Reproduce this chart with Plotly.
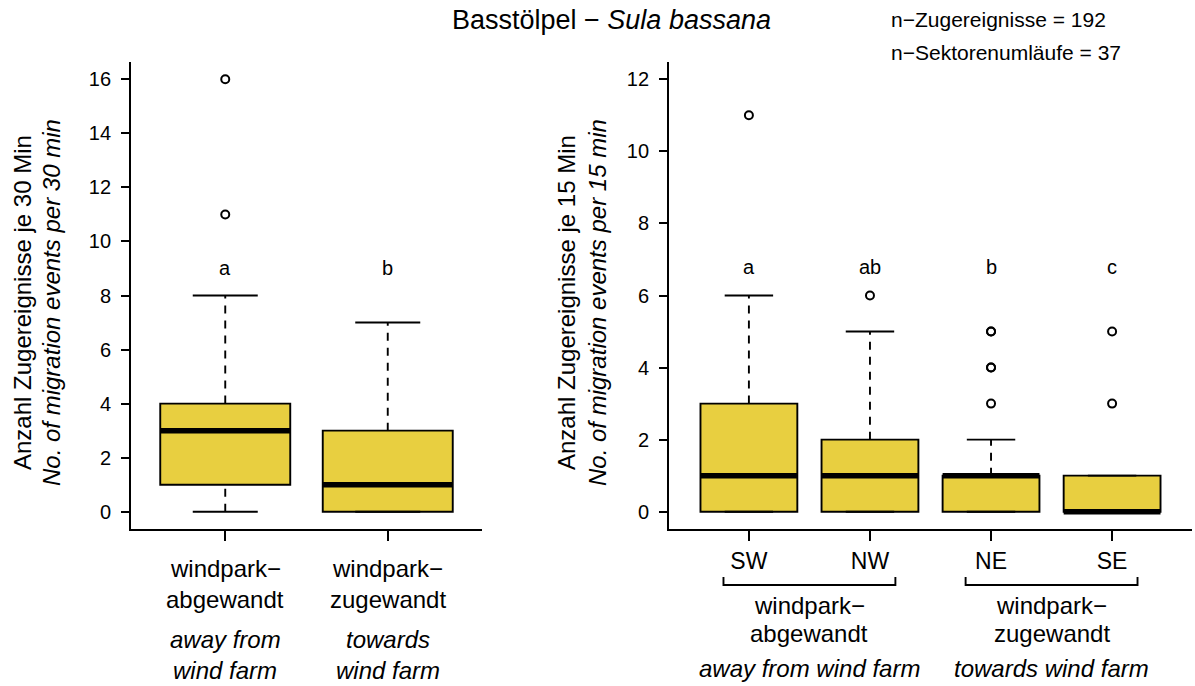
import plotly.graph_objects as go

# ---------------- data ----------------
left_categories = ["windpark−abgewandt", "windpark−zugewandt"]
left_label_de_1 = ["windpark−", "windpark−"]
left_label_de_2 = ["abgewandt", "zugewandt"]
left_label_en_1 = ["away from", "towards"]
left_label_en_2 = ["wind farm", "wind farm"]
left_q1 = [1, 0]
left_median = [3, 1]
left_q3 = [4, 3]
left_lower = [0, 0]
left_upper = [8, 7]
left_outliers = [[11, 16], []]
left_letters = ["a", "b"]
left_yticks = [0, 2, 4, 6, 8, 10, 12, 14, 16]

right_categories = ["SW", "NW", "NE", "SE"]
right_q1 = [0, 0, 0, 0]
right_median = [1, 1, 1, 0]
right_q3 = [3, 2, 1, 1]
right_lower = [0, 0, 0, 0]
right_upper = [6, 5, 2, 1]
right_outliers = [[11], [6], [3, 4, 4, 5, 5], [3, 5]]
right_letters = ["a", "ab", "b", "c"]
right_yticks = [0, 2, 4, 6, 8, 10, 12]

groups = [["SW", "NW"], ["NE", "SE"]]
group_de_1 = ["windpark−", "windpark−"]
group_de_2 = ["abgewandt", "zugewandt"]
group_en = ["away from wind farm", "towards wind farm"]

title_plain = "Basstölpel − "
title_italic = "Sula bassana"
n_lines = ["n−Zugereignisse = 192", "n−Sektorenumläufe = 37"]
ylab_left = ["Anzahl Zugereignisse je 30 Min", "No. of migration events per 30 min"]
ylab_right = ["Anzahl Zugereignisse je 15 Min", "No. of migration events per 15 min"]

# ---------------- style ----------------
W, H = 1195, 686
FONT = "Liberation Sans, Arial, Helvetica, sans-serif"
FILL = "#E8CF40"
LW = 1.9
BOXW = 0.8
TICK_FS = 20
LAB_FS = 24


def px_x(p):
    return p / W


def px_y(p):
    return 1 - p / H


fig = go.Figure()


def add_panel(xa, ya, q1, med, q3, lo, up, outl):
    pos = list(range(1, len(q1) + 1))
    fig.add_trace(go.Box(
        x=pos, q1=q1, median=med, q3=q3, lowerfence=q1, upperfence=q3,
        width=BOXW, fillcolor=FILL, line=dict(color="black", width=LW),
        boxpoints=False, showlegend=False, hoverinfo="skip",
        xaxis=xa, yaxis=ya,
    ))
    # dashed whiskers
    wx, wy = [], []
    for p, a, b, c, d in zip(pos, lo, q1, q3, up):
        if d > c:
            wx += [p, p, None]
            wy += [c, d, None]
        if a < b:
            wx += [p, p, None]
            wy += [a, b, None]
    fig.add_trace(go.Scatter(x=wx, y=wy, mode="lines",
                             line=dict(color="black", width=LW, dash="8px,7px"),
                             showlegend=False, hoverinfo="skip", xaxis=xa, yaxis=ya))
    # staples
    sx, sy = [], []
    for p, a, d in zip(pos, lo, up):
        for v in (a, d):
            sx += [p - BOXW / 4, p + BOXW / 4, None]
            sy += [v, v, None]
    fig.add_trace(go.Scatter(x=sx, y=sy, mode="lines",
                             line=dict(color="black", width=LW),
                             showlegend=False, hoverinfo="skip", xaxis=xa, yaxis=ya))
    # thick medians
    mx, my = [], []
    for p, m in zip(pos, med):
        mx += [p - BOXW / 2, p + BOXW / 2, None]
        my += [m, m, None]
    fig.add_trace(go.Scatter(x=mx, y=my, mode="lines",
                             line=dict(color="black", width=5.5),
                             showlegend=False, hoverinfo="skip", xaxis=xa, yaxis=ya))
    # outliers
    ox, oy = [], []
    for p, vals in zip(pos, outl):
        for v in vals:
            ox.append(p)
            oy.append(v)
    fig.add_trace(go.Scatter(x=ox, y=oy, mode="markers",
                             marker=dict(symbol="circle-open", size=8, color="black",
                                         line=dict(width=2, color="black")),
                             showlegend=False, hoverinfo="skip", xaxis=xa, yaxis=ya))
    return pos


posL = add_panel("x", "y", left_q1, left_median, left_q3, left_lower, left_upper, left_outliers)
posR = add_panel("x2", "y2", right_q1, right_median, right_q3, right_lower, right_upper, right_outliers)

y_dom = [px_y(529), px_y(62)]
axis_common = dict(showline=True, linecolor="black", linewidth=LW, ticks="outside",
                   tickcolor="black", tickwidth=LW, showgrid=False, zeroline=False,
                   tickfont=dict(family=FONT, size=TICK_FS, color="black"), fixedrange=True)

nL, nR = len(left_q1), len(right_q1)
fig.update_layout(
    width=W, height=H, margin=dict(l=0, r=0, t=0, b=0),
    paper_bgcolor="white", plot_bgcolor="white", showlegend=False,
    font=dict(family=FONT, size=TICK_FS, color="black"),
    xaxis=dict(domain=[px_x(131), px_x(482)], range=[0.5 - 0.04 * nL, nL + 0.5 + 0.04 * nL],
               tickvals=posL, ticktext=["", ""], ticklen=10, anchor="y", **axis_common),
    yaxis=dict(domain=y_dom, range=[-0.04 * 16, 16 * 1.04], tickvals=left_yticks,
               ticklen=8, ticklabelstandoff=6, anchor="x", **axis_common),
    xaxis2=dict(domain=[px_x(669), px_x(1192)], range=[0.5 - 0.04 * nR, nR + 0.5 + 0.04 * nR],
                tickvals=posR, ticktext=right_categories, ticklen=10, ticklabelstandoff=0,
                anchor="y2", **axis_common),
    yaxis2=dict(domain=y_dom, range=[-0.04 * 12, 12 * 1.04], tickvals=right_yticks,
                ticklen=8, ticklabelstandoff=6, anchor="x2", **axis_common),
)
fig.update_xaxes(tickfont=dict(size=23))

ann = []


def text(x, y, t, xref="paper", yref="paper", size=LAB_FS, angle=0, xanchor="center"):
    ann.append(dict(x=x, y=y, text=t, xref=xref, yref=yref, showarrow=False,
                    textangle=angle, xanchor=xanchor, yanchor="middle",
                    font=dict(family=FONT, size=size, color="black")))


# title and counts
text(px_x(611), px_y(20), title_plain + "<i>" + title_italic + "</i>", size=27)
text(px_x(889), px_y(20), n_lines[0], size=21, xanchor="left")
text(px_x(889), px_y(53), n_lines[1], size=21, xanchor="left")

# y-axis titles
ymid = px_y(303)
text(px_x(22), ymid, ylab_left[0], angle=-90)
text(px_x(51), ymid, "<i>" + ylab_left[1] + "</i>", angle=-90)
text(px_x(566), ymid, ylab_right[0], angle=-90)
text(px_x(597), ymid, "<i>" + ylab_right[1] + "</i>", angle=-90)

# significance letters
for p, l in zip(posL, left_letters):
    text(p, 9, l, xref="x", yref="y", size=TICK_FS)
for p, l in zip(posR, right_letters):
    text(p, 6.8, l, xref="x2", yref="y2", size=TICK_FS)

# left panel category labels
for i, p in enumerate(posL):
    text(p, px_y(568), left_label_de_1[i], xref="x")
    text(p, px_y(599), left_label_de_2[i], xref="x")
    text(p, px_y(639), "<i>" + left_label_en_1[i] + "</i>", xref="x")
    text(p, px_y(670), "<i>" + left_label_en_2[i] + "</i>", xref="x")

# right panel group brackets and labels
shapes = []
for gi, grp in enumerate(groups):
    i0 = right_categories.index(grp[0]) + 1
    i1 = right_categories.index(grp[-1]) + 1
    x0, x1 = i0 - 0.21, i1 + 0.21
    shapes.append(dict(type="path", xref="x2", yref="paper",
                       path=f"M {x0},{px_y(577)} L {x0},{px_y(585)} L {x1},{px_y(585)} L {x1},{px_y(577)}",
                       line=dict(color="black", width=LW)))
    cx = (i0 + i1) / 2
    text(cx, px_y(605), group_de_1[gi], xref="x2")
    text(cx, px_y(633), group_de_2[gi], xref="x2")
    text(cx, px_y(668), "<i>" + group_en[gi] + "</i>", xref="x2")

fig.update_layout(annotations=ann, shapes=shapes)
fig.write_html("out.html", config={"displayModeBar": False},
               post_script="document.body.style.margin='0px';")
